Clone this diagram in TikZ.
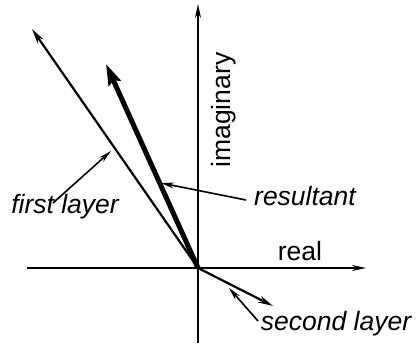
\documentclass[tikz,border=0pt]{standalone}
\usepackage{fontspec}
\setmainfont{Liberation Sans}
\usetikzlibrary{arrows.meta}
\begin{document}
\begin{tikzpicture}[x=1pt,y=-1pt,
  axis/.style={line width=1.8pt,-{Stealth[length=14pt,width=6pt]}},
  vec/.style={line width=2.2pt,-{Stealth[length=15pt,width=7pt]}},
  thickvec/.style={line width=5pt,-{Stealth[length=21pt,width=13pt,inset=3pt]}},
  leader/.style={line width=1.6pt,-{Stealth[length=13pt,width=6pt]}},
  lab/.style={font=\fontsize{26.5}{30}\selectfont, inner sep=0pt, anchor=base},
  ilab/.style={lab, font=\fontsize{26.5}{30}\selectfont\itshape}]
\useasboundingbox (0,0) rectangle (417,343);
\coordinate (O) at (198,268);
\coordinate (ybot) at (198,343);
\coordinate (ytop) at (198,4);
\coordinate (xl) at (27,268);
\coordinate (xr) at (366,268);
\coordinate (f) at (32,29);
\coordinate (r) at (106,64);
\coordinate (s) at (273,306);
\draw[axis] (ybot) -- (ytop);
\draw[axis] (xl) -- (xr);
\draw[vec] (O) -- (f);
\draw[thickvec] (O) -- (r);
\draw[vec] (O) -- (s);
\node[lab] (real) at (300,260) {real};
\node[lab, rotate=90, anchor=base] (imag) at (230,110) {imaginary};
\node[ilab] (first) at (65,213) {first layer};
\node[ilab] (res) at (305,205) {resultant};
\node[ilab] (sec) at (336,330) {second layer};
\coordinate (fs) at (53,203);
\coordinate (fe) at (111,151);
\coordinate (rs) at (246,200);
\coordinate (re) at (161,183);
\coordinate (ss) at (258,321);
\coordinate (se) at (229,288);
\draw[leader] (fs) -- (fe);
\draw[leader] (rs) -- (re);
\draw[leader] (ss) -- (se);
\end{tikzpicture}
\end{document}
